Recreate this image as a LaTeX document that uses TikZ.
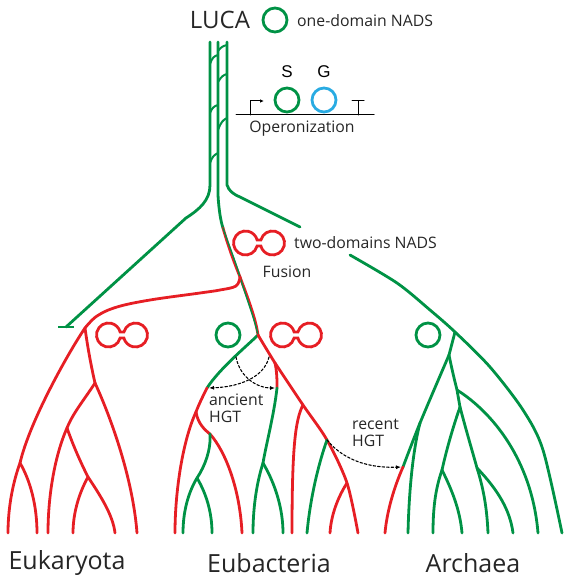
\documentclass[tikz,border=0pt]{standalone}
\usepackage{fontspec}
\setmainfont{Open Sans}
\newfontfamily\genefont{Liberation Sans}
\usetikzlibrary{arrows.meta}
\definecolor{treegreen}{RGB}{0,146,69}
\definecolor{treered}{RGB}{230,30,36}
\definecolor{geneblue}{RGB}{41,171,226}

\begin{document}
\begin{tikzpicture}[x=1pt,y=-1pt,line cap=round]
\tikzset{
grn/.style = {draw=treegreen,line width=2.8pt},
rd/.style = {draw=treered,line width=2.8pt},
thin/.style = {draw=treegreen,line width=2pt},
onedom/.style = {draw=treegreen,line width=2.8pt,shape=circle,minimum size=24pt,inner sep=0pt},
hgt/.style = {dashed,dash pattern=on 2.5pt off 2pt,line width=1.1pt,-{Latex[length=5pt,width=4pt]},shorten >=2pt},
lbl/.style = {font=\fontsize{15.8}{16.5}\selectfont,text=black!85,inner sep=0pt},
big/.style = {font=\fontsize{25}{27}\selectfont,text=black!85,inner sep=0pt},
fused/.pic = {\draw[rd] (0,3) -- (-1.88,3) arc[start angle=14.5,end angle=345.5,radius=12]
   -- (1.88,-3) arc[start angle=194.5,end angle=525.5,radius=12] -- cycle;},
}
\useasboundingbox (0,0) rectangle (572,585);
    %
% leaf tips
\foreach \x [count=\i] in {8,37,48,73,115,137,175,183,212,242,253,283,292,307,330,358,385,408,433,462,488,513,538,562}
  \coordinate (l\i) at (\x,533);
% junctions
\coordinate (ta) at (210,42);
\coordinate (tb) at (218,42);
\coordinate (tc) at (227,42);
\coordinate (ekx) at (66,327);
\coordinate (tr1) at (223,228);
\coordinate (ejn) at (240,277);
\coordinate (bsp) at (258,335);
\coordinate (arx) at (300,227);
\coordinate (ary) at (350,255);
\coordinate (e0) at (85,328);
\coordinate (e1) at (20,463);
\coordinate (e2) at (95,383);
\coordinate (e3) at (67,428);
\coordinate (e4) at (88,477);
\coordinate (b1) at (207,388);
\coordinate (b2) at (196,412);
\coordinate (b3) at (210,434);
\coordinate (b4) at (197,478);
\coordinate (b5) at (275,363);
\coordinate (b6) at (277,388);
\coordinate (b7) at (263,463);
\coordinate (b8) at (303,405);
\coordinate (b9) at (327,440);
\coordinate (b10) at (347,483);
\coordinate (a1) at (455,332);
\coordinate (a2) at (449,355);
\coordinate (a3) at (420,423);
\coordinate (ah) at (403,467);
\coordinate (a4) at (457,390);
\coordinate (a5) at (460,407);
\coordinate (a6) at (442,470);
\coordinate (a7) at (477,468);
\coordinate (hs1) at (269,357);
\coordinate (hs2) at (236,357);

% LUCA and the operon
\node[big,font=\fontsize{24}{26}\selectfont] (luca) at (220,20) {LUCA};
\node[onedom] (lucac) at (275,20) {};
\node[lbl,anchor=west] (onelbl) at (297,21) {one-domain NADS};
\node[onedom] (sgene) at (287,100) {};
\node[onedom,draw=geneblue] (ggene) at (324,100) {};
\node[font=\genefont\fontsize{17}{18}\selectfont,inner sep=0pt] (slbl) at (287,72) {S};
\node[font=\genefont\fontsize{17}{18}\selectfont,inner sep=0pt] (glbl) at (324,72) {G};
\coordinate (opl) at (236,115);
\coordinate (opr) at (374,115);
\draw[line width=1pt] (opl) -- (opr);
\draw[line width=1pt,-{Latex[length=4pt,width=3.5pt]}] (250,115) -- (250,101) -- (264,101);
\draw[line width=1pt] (358,115) -- (358,101) (352,101) -- (364,101);
\node[lbl] (opn) at (302,129) {Operonization};

% trunk
\draw[grn] (ta) -- (210,185) .. controls (210,200) and (200,209) .. (186,218) -- (ekx);
\draw[grn,line cap=butt] (ekx) ++(-8,0) -- ++(16,0);
\draw[grn] (tc) -- (227,185) .. controls (229,191) and (233,194) .. (240,197) -- (arx);
\draw[thin] (210,64) .. controls (212,58) and (214,56) .. (218,55);
\draw[thin] (218,51) .. controls (221,47) and (223,46) .. (227,45);
\draw[thin] (218,82) .. controls (221,77) and (223,75) .. (227,74);
\draw[thin] (210,113) .. controls (212,108) and (214,106) .. (218,105);
\draw[thin] (218,130) .. controls (221,122) and (223,120) .. (227,118);
\draw[thin] (210,163) .. controls (212,157) and (214,155) .. (218,153);
\draw[grn] (tb) -- (218,195) .. controls (219,212) and (221,222) .. (tr1);
\draw[rd,xshift=-0.7pt] (tr1) .. controls (230,250) and (236,265) .. (ejn);
\draw[rd,xshift=0.7pt] (ejn) .. controls (246,295) and (255,318) .. (bsp);
\draw[grn,line width=1.4pt,xshift=0.7pt] (tr1) .. controls (230,250) and (236,265) .. (ejn);
\draw[grn,line width=1.4pt,xshift=-0.7pt] (ejn) .. controls (246,295) and (255,318) .. (bsp);

% Eukaryota
\draw[rd] plot[smooth,tension=0.6] coordinates {(ejn) (236,286) (220,290) (200,293) (150,300) (117,307) (97,316) (e0)};
\draw[rd] (e0) .. controls (70,350) and (30,420) .. (e1);
\draw[rd] (e1) .. controls (12,485) and (8,510) .. (l1);
\draw[rd] (e1) .. controls (30,480) and (37,505) .. (l2);
\draw[rd] (e0) .. controls (88,350) and (92,370) .. (e2);
\draw[rd] (e2) .. controls (112,420) and (133,480) .. (l6);
\draw[rd] (e2) .. controls (84,400) and (73,413) .. (e3);
\draw[rd] (e3) .. controls (55,455) and (48,495) .. (l3);
\draw[rd] (e3) .. controls (74,448) and (82,465) .. (e4);
\draw[rd] (e4) .. controls (100,495) and (113,515) .. (l5);
\draw[rd] (e4) .. controls (78,495) and (73,515) .. (l4);

% Eubacteria
\draw[grn] (bsp) .. controls (248,345) and (220,368) .. (b1);
\draw[rd] (b1) .. controls (203,396) and (199,404) .. (b2);
\draw[rd] (b2) .. controls (183,440) and (175,490) .. (l7);
\draw[rd] (b2) .. controls (198,424) and (205,430) .. (b3);
\draw[rd] (b3) .. controls (226,452) and (240,490) .. (l10);
\draw[grn] (b3) .. controls (211,450) and (205,466) .. (b4);
\draw[grn] (b4) .. controls (188,493) and (183,512) .. (l8);
\draw[grn] (b4) .. controls (206,493) and (212,512) .. (l9);
\draw[rd] (bsp) .. controls (264,345) and (270,355) .. (b5);
\draw[rd] (b5) .. controls (277,372) and (277,380) .. (b6);
\draw[grn] (b6) .. controls (274,415) and (266,445) .. (b7);
\draw[grn] (b7) .. controls (256,485) and (253,510) .. (l11);
\draw[grn] (b7) .. controls (276,485) and (283,510) .. (l12);
\draw[rd] plot[smooth,tension=0.5] coordinates {(b5) (b8) (b9) (b10) (l16)};
\draw[rd] (b8) .. controls (295,420) and (292,450) .. (l13);
\draw[grn] (b9) .. controls (318,465) and (310,500) .. (l14);
\draw[rd] (b10) .. controls (338,497) and (331,515) .. (l15);

% Archaea
\draw[grn] plot[smooth,tension=0.5] coordinates {(ary) (397,283) (430,310) (a1) (490,367) (523,410) (543,450) (l24)};
\draw[grn] (a1) -- (a2);
\draw[grn] plot[smooth,tension=0.5] coordinates {(a2) (a3) (ah)};
\draw[rd] (ah) .. controls (395,485) and (387,510) .. (l17);
\draw[grn] (a3) .. controls (413,450) and (409,490) .. (l18);
\draw[grn] (a2) .. controls (452,370) and (455,382) .. (a4) -- (a5);
\draw[grn] (a4) .. controls (492,412) and (532,460) .. (l23);
\draw[grn] (a5) .. controls (452,430) and (446,452) .. (a6);
\draw[grn] (a6) .. controls (435,490) and (433,510) .. (l19);
\draw[grn] (a6) .. controls (452,490) and (460,510) .. (l20);
\draw[grn] (a5) .. controls (466,430) and (472,450) .. (a7);
\draw[grn] (a7) .. controls (484,490) and (487,510) .. (l21);
\draw[grn] (a7) .. controls (498,490) and (510,510) .. (l22);

% domains
\pic at (259,243) {fused};
\pic at (122,335) {fused};
\pic at (296,335) {fused};
\node[onedom] (bacc) at (228,335) {};
\node[onedom] (arcc) at (428,335) {};
\node[lbl,anchor=west] (twolbl) at (294,243) {two-domains NADS};
\node[lbl] (fus) at (287,272) {Fusion};

% transfers
\draw[hgt] (hs1) .. controls (264,378) and (238,387) .. (b1);
\draw[hgt] (hs2) .. controls (240,378) and (258,388) .. (b6);
\draw[hgt] (b9) .. controls (345,462) and (372,468) .. (ah);
\node[lbl,anchor=north west,align=left] (anclbl) at (209,394) {ancient\\HGT};
\node[lbl,anchor=north west,align=left] (reclbl) at (352,419) {recent\\HGT};

\node[big] (euk) at (67,563) {Eukaryota};
\node[big] (eub) at (269,563) {Eubacteria};
\node[big] (arc) at (473,563) {Archaea};
\end{tikzpicture}
\end{document}
